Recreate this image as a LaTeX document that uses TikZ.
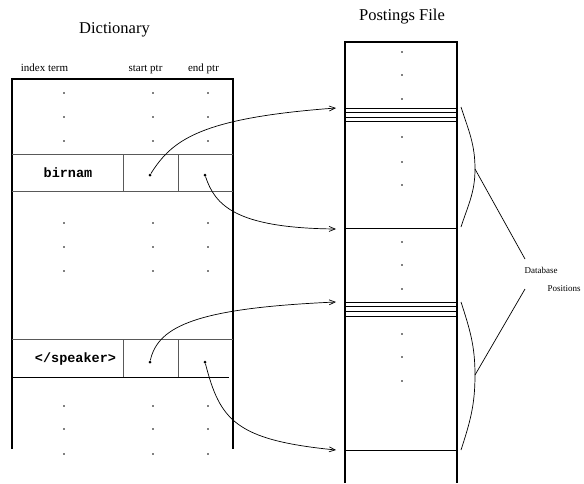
\documentclass[tikz,border=0pt]{standalone}
\usepackage{fontspec}
\setmainfont{Liberation Serif}
\setmonofont{Liberation Mono}
\usetikzlibrary{arrows.meta}
\begin{document}
\begin{tikzpicture}[x=1pt,y=-1pt,
  frame/.style={line width=1.8pt},
  divider/.style={line width=0.9pt,black!65},
  slot/.style={line width=0.8pt},
  dotmark/.style={circle,fill,inner sep=0pt,minimum size=1.7pt},
  ptrdot/.style={circle,fill,inner sep=0pt,minimum size=3pt},
  link/.style={line width=0.7pt,-{Straight Barb[length=6pt,width=5pt]}},
  brace/.style={line width=0.7pt},
  title/.style={font=\fontsize{16.5}{18}\selectfont,anchor=base},
  colhead/.style={font=\fontsize{11}{12}\selectfont,anchor=base},
  term/.style={font=\fontsize{13.5}{14}\selectfont\ttfamily\bfseries,anchor=base},
  tag/.style={font=\fontsize{9}{10}\selectfont,anchor=base}]
\useasboundingbox (0,0) rectangle (584,483);

% ---- titles and column headings ----
\node[title] (dicttitle) at (114.5,33.5) {Dictionary};
\node[title] (posttitle) at (402,20) {Postings File};
\node[colhead] (hterm)  at (44.5,71) {index term};
\node[colhead] (hstart) at (145.5,71) {start ptr};
\node[colhead] (hend)   at (203.5,71) {end ptr};

% ---- dictionary table ----
\draw[frame] (12,449) -- (12,79) -- (233,79) -- (233,449);
\draw[divider] (12,154) -- (233,154);
\draw[divider] (12,191) -- (233,191);
\draw[divider] (123,154) -- (123,191);
\draw[divider] (178,154) -- (178,191);
\draw[divider] (12,339) -- (233,339);
\draw[slot] (12,377) -- (229,377);
\draw[divider] (123,339) -- (123,377);
\draw[divider] (178,339) -- (178,377);

\node[term] (birnam)  at (68,177) {birnam};
\node[term] (speaker) at (75.5,362.7) {</speaker>};

% elided rows of the dictionary
\foreach \y in {93,117,141,223,247,271,406,429,454}
  \foreach \x in {64,153,208}
    \node[dotmark] at (\x,\y) {};

% pointer origins
\node[ptrdot] (bstart) at (150,175) {};
\node[ptrdot] (bend)   at (205,175) {};
\node[ptrdot] (sstart) at (150,362) {};
\node[ptrdot] (send)   at (205,362) {};

% ---- postings file ----
\draw[frame] (345,483) -- (345,42) -- (457,42) -- (457,483);
\foreach \y in {108,112.5,117,121,228,302,306.5,311,316,450}
  \draw[slot] (345,\y) -- (457,\y);
\foreach \y in {52,75,99,137,162,185,242,265,289,334,357,381}
  \node[dotmark] at (402,\y) {};

% arrow targets
\coordinate (t1) at (336,108);
\coordinate (t2) at (336,229);
\coordinate (t3) at (336,302);
\coordinate (t4) at (336,450);

\draw[link] (bstart) .. controls (172,140) and (200,118) .. (t1);
\draw[link] (bend)   .. controls (215,205) and (235,228) .. (t2);
\draw[link] (sstart) .. controls (158,325) and (200,308) .. (t3);
\draw[link] (send)   .. controls (220,420) and (235,440) .. (t4);

% ---- database position braces ----
\coordinate (b1t) at (461,107);
\coordinate (b1m) at (475,169);
\coordinate (b1b) at (461,227);
\coordinate (b2t) at (461,302);
\coordinate (b2m) at (475,375);
\coordinate (b2b) at (461,450);
\draw[brace] (b1t) to[out=-72,in=90] (b1m) to[out=-90,in=72] (b1b);
\draw[brace] (b2t) to[out=-72,in=90] (b2m) to[out=-90,in=72] (b2b);

\node[tag] (db)  at (541,273) {Database};
\node[tag,anchor=base west] (pos) at (544,291.7) {Positions};
\coordinate (l1) at (525,259);
\coordinate (l2) at (525,289);
\draw[brace] (b1m) -- (l1);
\draw[brace] (b2m) -- (l2);
\end{tikzpicture}
\end{document}
